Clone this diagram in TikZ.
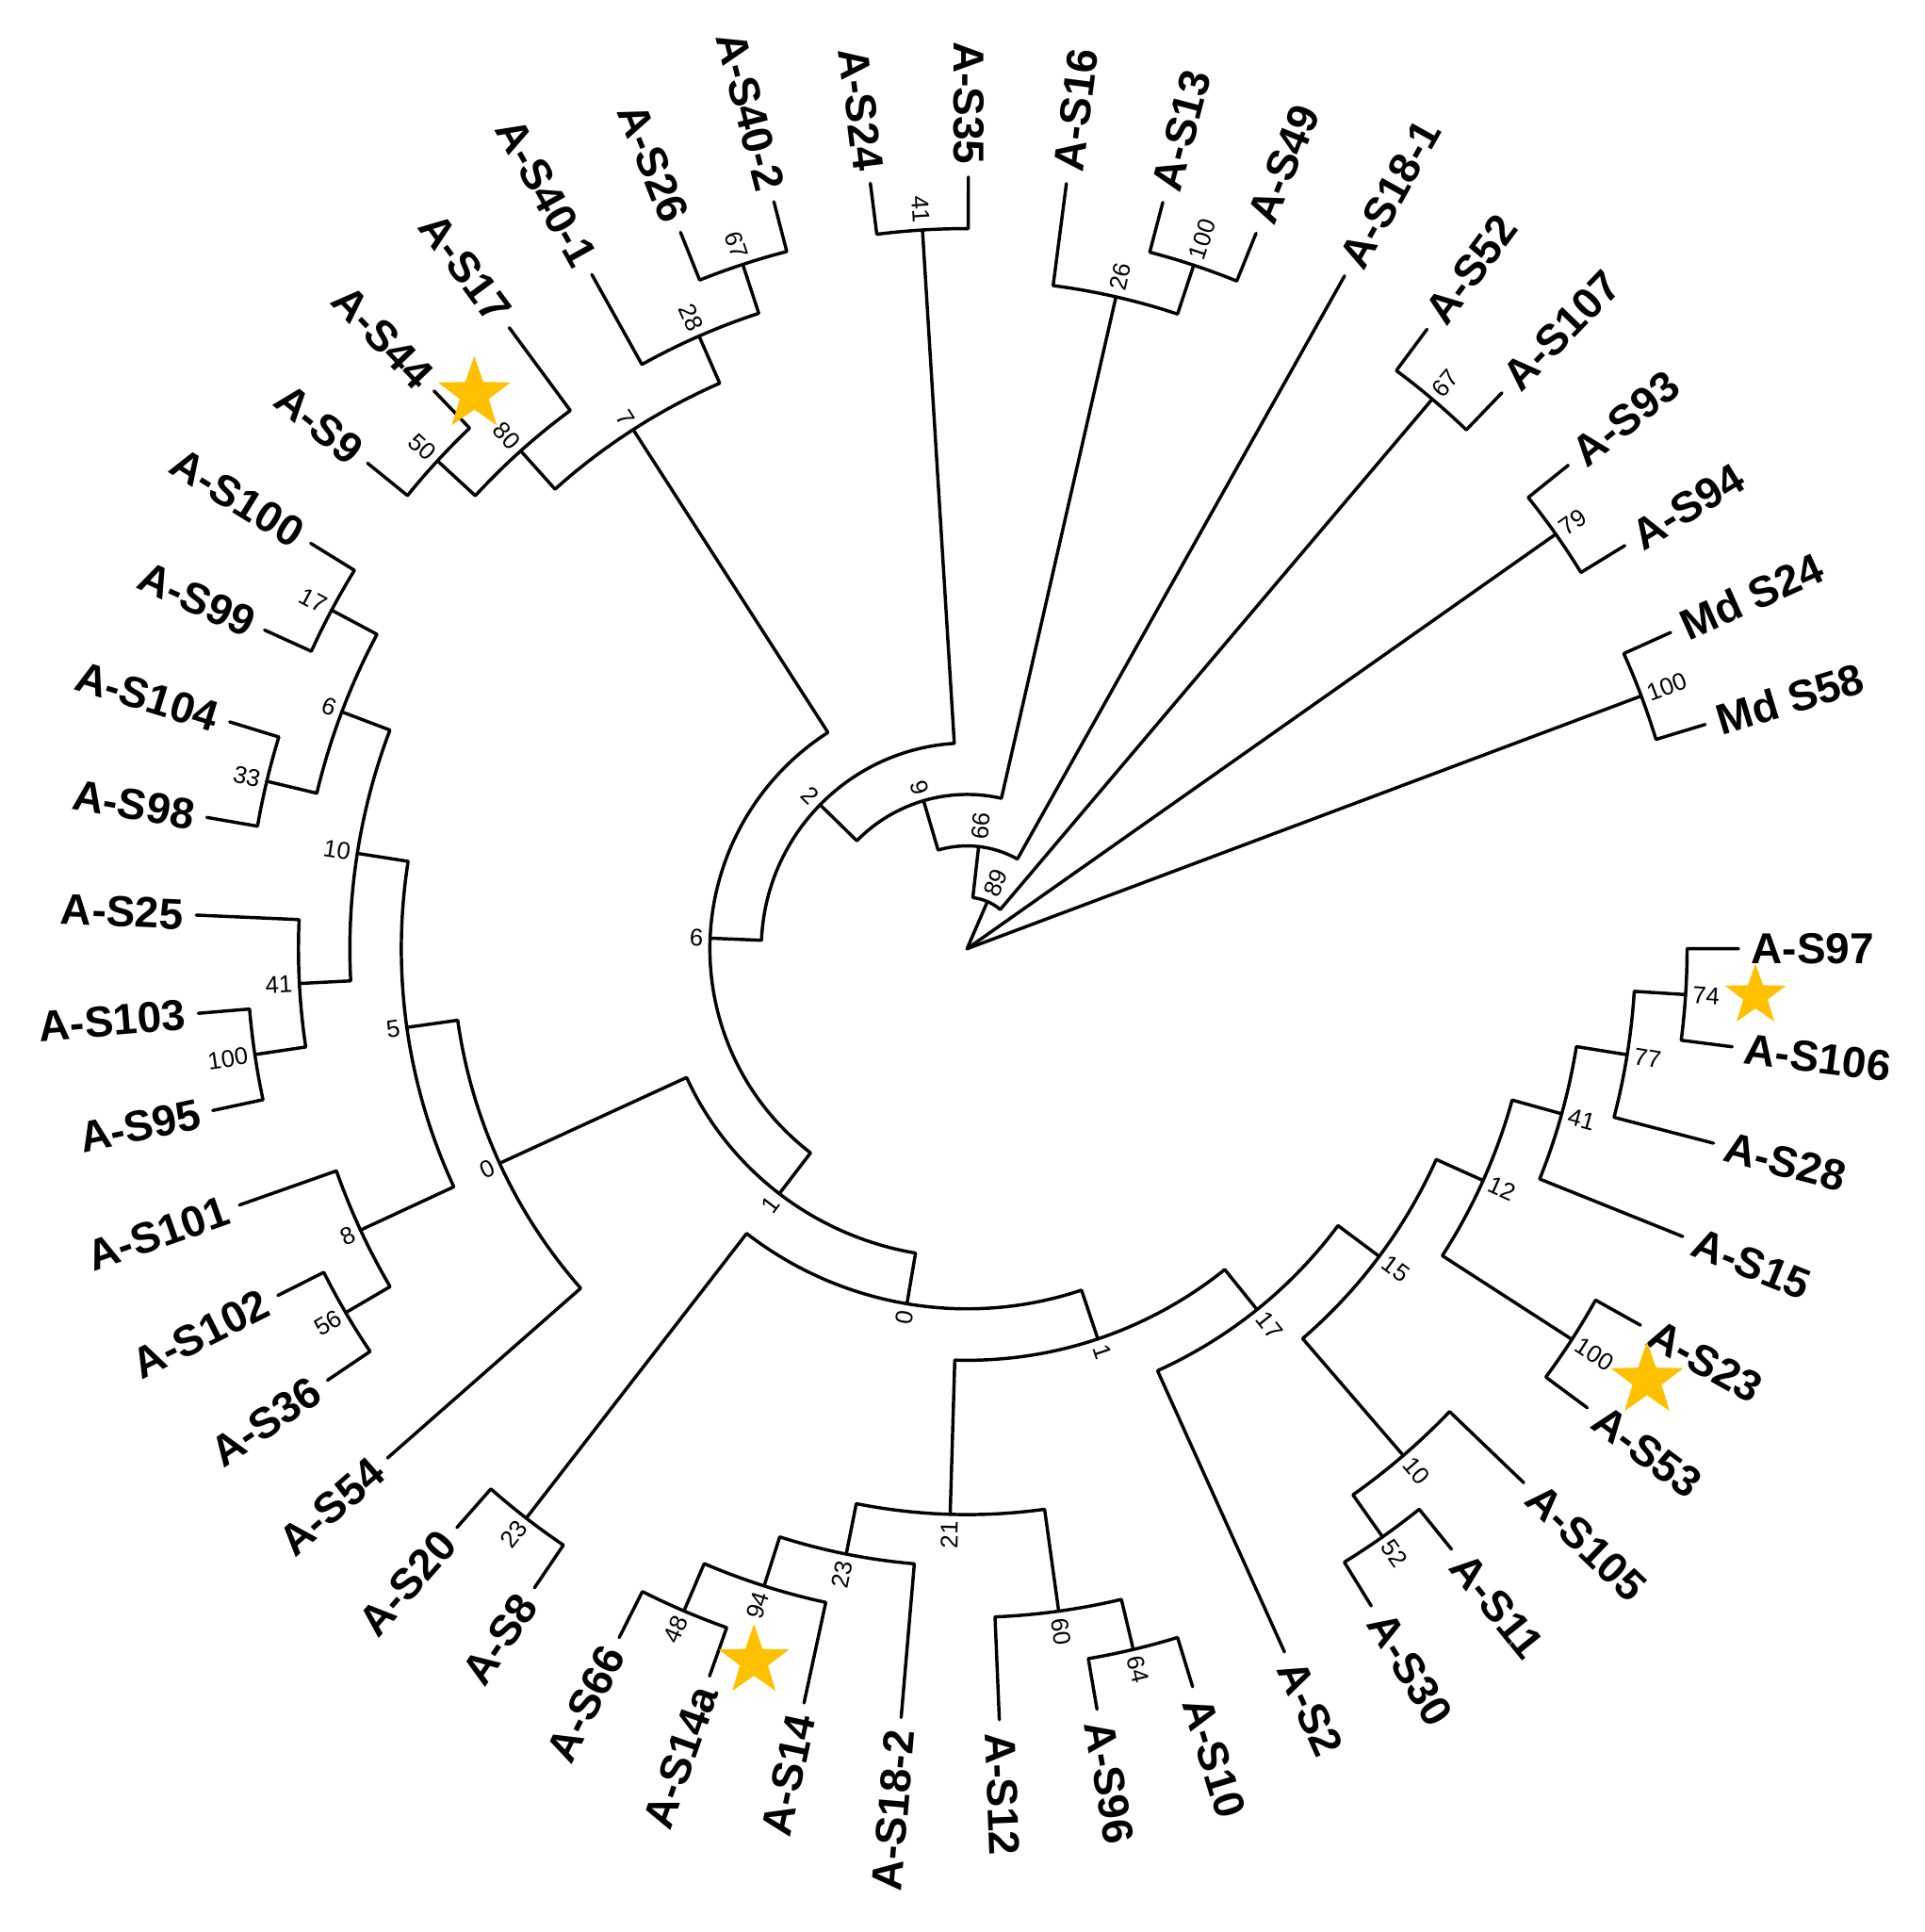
\documentclass[tikz,border=0pt]{standalone}
\usepackage{fontspec}
\setmainfont{Liberation Sans}
\usetikzlibrary{shapes.geometric}
\definecolor{stargold}{RGB}{255,192,0}
\def\stp{0.4175}
% internal node: name, level, angle child1, level child1, angle child2, level child2, node angle
\newcommand{\clade}[7]{%
  \coordinate (#1) at (#7:{\stp*#2});
  \draw[branch] (#3:{\stp*#4}) -- (#3:{\stp*#2}) arc[start angle=#3, end angle=#5, radius={\stp*#2}] -- (#5:{\stp*#6});
}
\newcommand{\bsr}[4]{\node[bs, anchor=west, rotate=#2] (#1) at (#2:{\stp*#3+0.05}) {#4};}
\newcommand{\bsl}[4]{\node[bs, anchor=east, rotate=#2-180] (#1) at (#2:{\stp*#3+0.05}) {#4};}
\newcommand{\lfr}[3]{\node[leaf, anchor=west, rotate=#2] (#1) at (#2:6.36) {#3};}
\newcommand{\lfl}[3]{\node[leaf, anchor=east, rotate=#2-180] (#1) at (#2:6.36) {#3};}
\begin{document}
\begin{tikzpicture}[
  branch/.style={line width=0.75pt, line cap=round, line join=round},
  leaf/.style={font=\fontsize{10}{12}\selectfont\bfseries, inner sep=0pt},
  bs/.style={font=\fontsize{5.6}{6}\selectfont, inner sep=0pt},
  starmark/.style={star, star points=5, star point ratio=2.5, fill=stargold, draw=none, inner sep=0pt, minimum size=#1}
]
\useasboundingbox (0,0) rectangle (15.62,-15.68);
\begin{scope}[shift={(7.85,-7.70)}]
\coordinate (root) at (0,0);
% root stems
\draw[branch] (root) -- (20.55:{\stp*14});
\draw[branch] (root) -- (35.15:{\stp*14});
\draw[branch] (root) -- (66.64:{\stp*1});
% clades
\clade{nMd}{14}{16.9}{15}{24.2}{15}{20.55}
\clade{n79}{14}{31.5}{15}{38.8}{15}{35.15}
\clade{n67}{14}{46.1}{15}{53.4}{15}{49.75}
\clade{n89}{1}{49.75}{14}{83.53}{2}{66.64}
\clade{n66}{2}{60.7}{15}{106.36}{3}{83.53}
\clade{n9}{3}{77.13}{13}{135.59}{4}{106.36}
\clade{n26}{13}{71.65}{14}{82.6}{15}{77.13}
\clade{n100b}{14}{68}{15}{75.3}{15}{71.65}
\clade{n2}{4}{93.55}{14}{177.64}{5}{135.59}
\clade{n41}{14}{89.9}{15}{97.2}{15}{93.55}
\clade{n6}{5}{122.75}{12}{232.52}{6}{177.64}
\clade{n7}{12}{113.63}{13}{131.88}{13}{122.75}
\clade{n28}{13}{108.15}{14}{119.1}{15}{113.63}
\clade{n67b}{14}{104.5}{15}{111.8}{15}{108.15}
\clade{n80}{13}{126.4}{15}{137.35}{14}{131.88}
\clade{n50}{14}{133.7}{15}{141}{15}{137.35}
\clade{n1L}{6}{204.65}{10}{260.39}{7}{232.52}
\clade{n0L}{10}{187.99}{11}{221.3}{15}{204.65}
\clade{n5}{11}{171.11}{12}{204.88}{13}{187.99}
\clade{n10}{12}{159.25}{13}{182.98}{13}{171.11}
\clade{n6b}{13}{151.95}{14}{166.55}{14}{159.25}
\clade{n17L}{14}{148.3}{15}{155.6}{15}{151.95}
\clade{n33}{14}{162.9}{15}{170.2}{15}{166.55}
\clade{n41b}{13}{177.5}{15}{188.45}{14}{182.98}
\clade{n100c}{14}{184.8}{15}{192.1}{15}{188.45}
\clade{n8}{13}{199.4}{15}{210.35}{14}{204.88}
\clade{n56}{14}{206.7}{15}{214}{15}{210.35}
\clade{n0B}{7}{232.25}{14}{288.54}{8}{260.39}
\clade{n23b}{14}{228.6}{15}{235.9}{15}{232.25}
\clade{n1R}{8}{268.29}{11}{308.79}{9}{288.54}
\clade{n21}{11}{258.71}{12}{277.88}{13}{268.29}
\clade{n23c}{12}{252.33}{13}{265.1}{15}{258.71}
\clade{n94}{13}{246.85}{14}{257.8}{15}{252.33}
\clade{n48}{14}{243.2}{15}{250.5}{15}{246.85}
\clade{n60}{13}{272.4}{15}{283.35}{14}{277.88}
\clade{n64}{14}{279.7}{15}{287}{15}{283.35}
\clade{n17}{9}{294.3}{15}{323.27}{10}{308.79}
\clade{n15}{10}{310.73}{13}{335.82}{11}{323.27}
\clade{n10b}{13}{305.25}{14}{316.2}{15}{310.73}
\clade{n52}{14}{301.6}{15}{308.9}{15}{305.25}
\clade{n12}{11}{327.15}{14}{344.49}{12}{335.82}
\clade{n100d}{14}{323.5}{15}{330.8}{15}{327.15}
\clade{n41c}{12}{338.1}{15}{350.88}{13}{344.49}
\clade{n77}{13}{345.4}{15}{356.35}{14}{350.88}
\clade{n74}{14}{352.7}{15}{360}{15}{356.35}
% bootstrap values
\bsr{bMd}{20.55}{14}{100}
\bsr{b79}{35.15}{14}{79}
\bsr{b67}{49.75}{14}{67}
\bsr{b89}{66.64}{1}{89}
\bsr{b66}{83.53}{2}{66}
\bsl{b9}{106.36}{3}{9}
\bsr{b26}{77.13}{13}{26}
\bsr{b100b}{71.65}{14}{100}
\bsl{b2}{135.59}{4}{2}
\bsl{b41}{93.55}{14}{41}
\bsl{b6}{177.64}{5}{6}
\bsl{b7}{122.75}{12}{7}
\bsl{b28}{113.63}{13}{28}
\bsl{b67b}{108.15}{14}{67}
\bsl{b80}{131.88}{13}{80}
\bsl{b50}{137.35}{14}{50}
\bsl{b1L}{232.52}{6}{1}
\bsl{b0L}{204.65}{10}{0}
\bsl{b5}{187.99}{11}{5}
\bsl{b10}{171.11}{12}{10}
\bsl{b6b}{159.25}{13}{6}
\bsl{b17L}{151.95}{14}{17}
\bsl{b33}{166.55}{14}{33}
\bsl{b41b}{182.98}{13}{41}
\bsl{b100c}{188.45}{14}{100}
\bsl{b8}{204.88}{13}{8}
\bsl{b56}{210.35}{14}{56}
\bsl{b0B}{260.39}{7}{0}
\bsl{b23b}{232.25}{14}{23}
\bsr{b1R}{288.54}{8}{1}
\bsl{b21}{268.29}{11}{21}
\bsl{b23c}{258.71}{12}{23}
\bsl{b94}{252.33}{13}{94}
\bsl{b48}{246.85}{14}{48}
\bsr{b60}{277.88}{13}{60}
\bsr{b64}{283.35}{14}{64}
\bsr{b17}{308.79}{9}{17}
\bsr{b15}{323.27}{10}{15}
\bsr{b10b}{310.73}{13}{10}
\bsr{b52}{305.25}{14}{52}
\bsr{b12}{335.82}{11}{12}
\bsr{b100d}{327.15}{14}{100}
\bsr{b41c}{344.49}{12}{41}
\bsr{b77}{350.88}{13}{77}
\bsr{b74}{356.35}{14}{74}
% leaf labels
\lfr{l97}{360}{A-S97}
\lfr{l106}{352.7}{A-S106}
\lfr{l28}{345.4}{A-S28}
\lfr{l15}{338.1}{A-S15}
\lfr{l23}{330.8}{A-S23}
\lfr{l53}{323.5}{A-S53}
\lfr{l105}{316.2}{A-S105}
\lfr{l11}{308.9}{A-S11}
\lfr{l30}{301.6}{A-S30}
\lfr{l2}{294.3}{A-S2}
\lfr{l10}{287}{A-S10}
\lfr{l96}{279.7}{A-S96}
\lfr{l12}{272.4}{A-S12}
\lfl{l182}{265.1}{A-S18-2}
\lfl{l14}{257.8}{A-S14}
\lfl{l14a}{250.5}{A-S14a}
\lfl{l66}{243.2}{A-S66}
\lfl{l8}{235.9}{A-S8}
\lfl{l20}{228.6}{A-S20}
\lfl{l54}{221.3}{A-S54}
\lfl{l36}{214}{A-S36}
\lfl{l102}{206.7}{A-S102}
\lfl{l101}{199.4}{A-S101}
\lfl{l95}{192.1}{A-S95}
\lfl{l103}{184.8}{A-S103}
\lfl{l25}{177.5}{A-S25}
\lfl{l98}{170.2}{A-S98}
\lfl{l104}{162.9}{A-S104}
\lfl{l99}{155.6}{A-S99}
\lfl{l100}{148.3}{A-S100}
\lfl{l9}{141}{A-S9}
\lfl{l44}{133.7}{A-S44}
\lfl{l17}{126.4}{A-S17}
\lfl{l401}{119.1}{A-S40-1}
\lfl{l26}{111.8}{A-S26}
\lfl{l402}{104.5}{A-S40-2}
\lfl{l24}{97.2}{A-S24}
\lfl{l35}{89.9}{A-S35}
\lfr{l16}{82.6}{A-S16}
\lfr{l13}{75.3}{A-S13}
\lfr{l49}{68}{A-S49}
\lfr{l181}{60.7}{A-S18-1}
\lfr{l52}{53.4}{A-S52}
\lfr{l107}{46.1}{A-S107}
\lfr{l93}{38.8}{A-S93}
\lfr{l94}{31.5}{A-S94}
\lfr{lMd24}{24.2}{Md S24}
\lfr{lMd58}{16.9}{Md S58}
\end{scope}
% stars
\node[starmark=0.62cm] (st1) at (3.85,-3.20) {};
\node[starmark=0.52cm] (st2) at (14.25,-8.08) {};
\node[starmark=0.62cm] (st3) at (13.37,-11.20) {};
\node[starmark=0.60cm] (st4) at (6.12,-13.48) {};
\end{tikzpicture}
\end{document}
